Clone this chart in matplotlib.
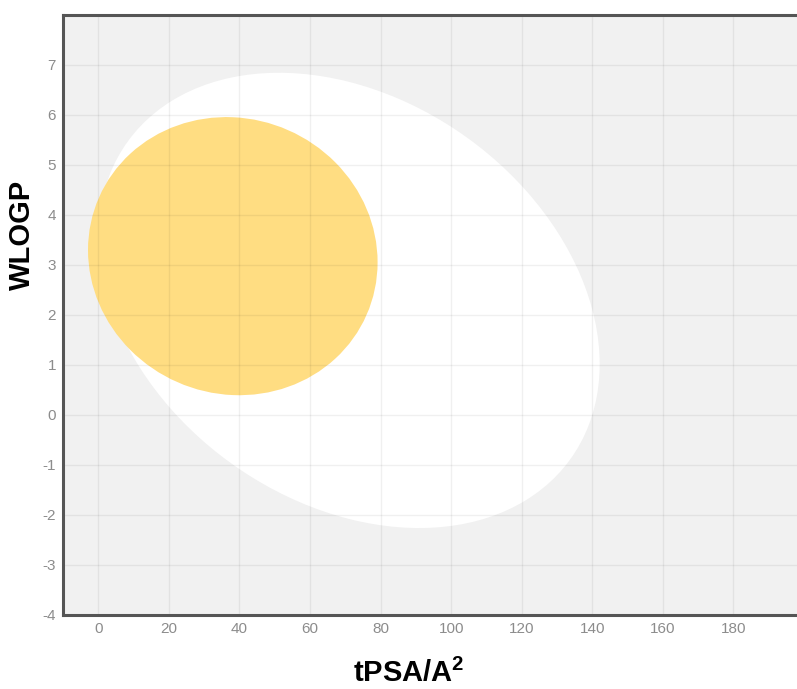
import matplotlib
matplotlib.use("Agg")
import matplotlib.pyplot as plt
from matplotlib.patches import Ellipse

# BOILED-Egg regions: (center tPSA, center WLOGP, width, height, angle deg in data space)
egg_names = ["HIA (white)", "BBB (yolk)"]
egg_cx = [71.051, 38.117]
egg_cy = [2.292, 3.177]
egg_w = [142.081, 82.061]
egg_h = [8.740, 5.557]
egg_angle = [-1.031325, -0.171887]
egg_colors = ["#ffffff", "#ffdd82"]

x_ticks = [0, 20, 40, 60, 80, 100, 120, 140, 160, 180]
y_ticks = [-4, -3, -2, -1, 0, 1, 2, 3, 4, 5, 6, 7]

plt.rcParams['font.family'] = ['Liberation Sans', 'DejaVu Sans']
plt.rcParams['mathtext.fontset'] = 'custom'
plt.rcParams['mathtext.rm'] = 'Liberation Sans:bold'
plt.rcParams['mathtext.bf'] = 'Liberation Sans:bold'
plt.rcParams['mathtext.default'] = 'bf'
plt.rcParams['axes.unicode_minus'] = False

fig = plt.figure(figsize=(7.97, 6.89), dpi=100)
ax = fig.add_axes([63/797, 1-615/689, 1-63/797, (615-15)/689])
ax.set_facecolor("#f1f1f1")

for cx, cy, w, h, a, c in zip(egg_cx, egg_cy, egg_w, egg_h, egg_angle, egg_colors):
    ax.add_patch(Ellipse((cx, cy), w, h, angle=a, facecolor=c, edgecolor='none', zorder=1))

ax.set_xlim(-10, 198)
ax.set_ylim(-4, 8)
ax.set_xticks(x_ticks)
ax.set_yticks(y_ticks)
ax.grid(True, color='black', alpha=0.06, linewidth=1.0)
ax.set_axisbelow('line')
ax.tick_params(length=0, labelsize=11, labelcolor='#8c8c8c', pad=5)

for s in ['left', 'bottom', 'top']:
    ax.spines[s].set_color('#555555')
    ax.spines[s].set_linewidth(2.2)
ax.spines['right'].set_visible(False)

fig.text(409/797, 7/689, r'tPSA/A$^{2}$', ha='center', va='baseline',
         fontsize=21, fontweight='bold', color='black')
fig.text(22/797, 1-235/689, 'WLOGP', ha='center', va='center', rotation=90,
         fontsize=21, fontweight='bold', color='black')

fig.savefig("out.png", dpi=100)
